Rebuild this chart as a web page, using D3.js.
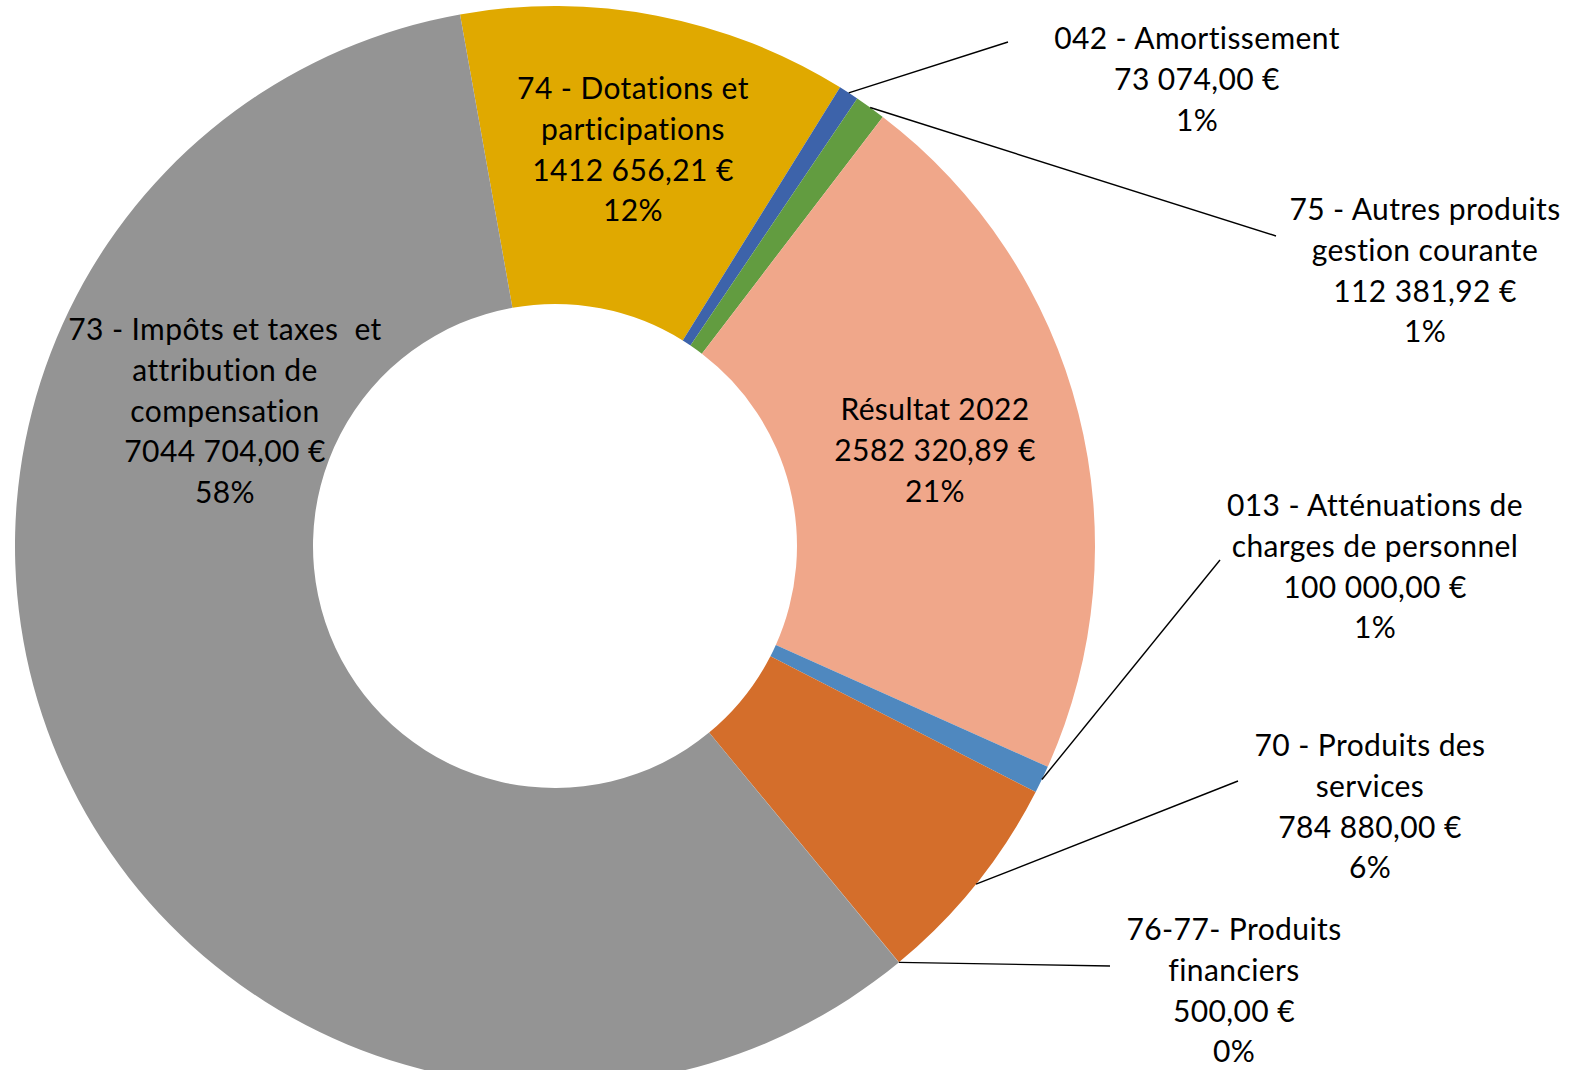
<!DOCTYPE html>
<html>
<head>
<meta charset="utf-8">
<script src="https://cdn.jsdelivr.net/npm/d3@7"></script>
<style>
  html, body { margin: 0; padding: 0; background: #ffffff; }
  svg { display: block; }
  text { font-family: "Lato", "Open Sans", sans-serif; fill: #000; }
</style>
</head>
<body>
<svg id="chart" width="1571" height="1070"></svg>
<script>
// ---- data (clockwise order, starting from the top) ----
const categories = [
  "74 - Dotations et\nparticipations",
  "042 - Amortissement",
  "75 - Autres produits\ngestion courante",
  "Résultat 2022",
  "013 - Atténuations de\ncharges de personnel",
  "70 - Produits des\nservices",
  "76-77- Produits\nfinanciers",
  "73 - Impôts et taxes  et\nattribution de\ncompensation"
];
const values = [1412656.21, 73074.00, 112381.92, 2582320.89, 100000.00, 784880.00, 500.00, 7044704.00];
const colors = ["#E0A900", "#3D63AA", "#629C40", "#F0A78A", "#4F88BF", "#D46E2B", "#A5A5A5", "#949494"];

// ---- layout (not data) ----
const cx = 555, cy = 546, outerR = 540, innerR = 242;
const startDeg = -10.13;
const lineGap = 40.8;
const fontSize = 30;
// label center (x, first line y) and optional leader line endpoint
const labelLayout = [
  {x: 633, y: 87},
  {x: 1197, y: 37, lx: 1008, ly: 42},
  {x: 1425, y: 208, lx: 1276, ly: 236},
  {x: 935, y: 408},
  {x: 1375, y: 504, lx: 1220, ly: 560},
  {x: 1370, y: 744, lx: 1238, ly: 781},
  {x: 1234, y: 928, lx: 1110, ly: 966},
  {x: 225, y: 328}
];

const total = d3.sum(values);
function frMoney(v) {
  const fixed = v.toFixed(2);
  const [intPart, dec] = fixed.split(".");
  const n = +intPart;
  let s;
  if (n >= 1000) {
    s = Math.floor(n / 1000) + " " + String(n % 1000).padStart(3, "0");
  } else {
    s = String(n);
  }
  return s + "," + dec + " €";
}

const svg = d3.select("#chart");
const g = svg.append("g").attr("transform", `translate(${cx},${cy})`);

const pie = d3.pie().sort(null).value(d => d)
  .startAngle(startDeg * Math.PI / 180)
  .endAngle(startDeg * Math.PI / 180 + 2 * Math.PI);
const arcs = pie(values);
const arc = d3.arc().innerRadius(innerR).outerRadius(outerR);
const edgeArc = d3.arc().innerRadius(outerR).outerRadius(outerR);

g.selectAll("path.slice").data(arcs).enter().append("path")
  .attr("class", "slice")
  .attr("d", arc)
  .attr("fill", (d, i) => colors[i]);

// leader lines
arcs.forEach((d, i) => {
  const L = labelLayout[i];
  if (L.lx === undefined) return;
  const [px, py] = edgeArc.centroid(d);
  svg.append("line")
    .attr("x1", cx + px).attr("y1", cy + py)
    .attr("x2", L.lx).attr("y2", L.ly)
    .attr("stroke", "#000").attr("stroke-width", 1.4);
});

// labels
arcs.forEach((d, i) => {
  const L = labelLayout[i];
  const lines = categories[i].split("\n");
  lines.push(frMoney(values[i]));
  lines.push(Math.round(values[i] / total * 100) + "%");
  const t = svg.append("text")
    .attr("text-anchor", "middle")
    .attr("font-size", fontSize)
    .attr("letter-spacing", 0.4);
  lines.forEach((ln, k) => {
    t.append("tspan")
      .attr("x", L.x)
      .attr("y", L.y + k * lineGap)
      .attr("dominant-baseline", "central")
      .attr("xml:space", "preserve")
      .text(ln);
  });
});
</script>
</body>
</html>
